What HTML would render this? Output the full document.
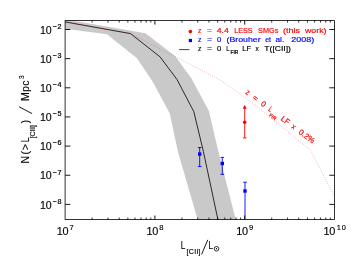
<!DOCTYPE html><html><head><meta charset="utf-8"><style>html,body{margin:0;padding:0;background:#fff}svg{display:block;will-change:transform}text{font-family:"Liberation Sans",sans-serif}.m{stroke:#000;stroke-width:0.12px}</style></head><body>
<svg width="354" height="261" viewBox="0 0 354 261">
<rect width="354" height="261" fill="#fff"/>
<defs><clipPath id="c"><rect x="65.1" y="20.6" width="269.4" height="198.9"/></clipPath></defs>
<g clip-path="url(#c)">
<polygon fill="#c9c9c9" points="65.1,19.3 145.5,33.2 175.3,56.3 191.5,78.5 208.8,110.8 218.3,151 235.7,219.5 197.6,219.5 178,152 169.8,113.4 152,80.6 136.7,58 106.9,34.3 65.1,28.7"/>
<polyline fill="none" stroke="#000" stroke-width="0.8" points="65.1,21.9 130.5,33.6 160,56.8 177,79.5 193.8,111.6 203.4,151.5 217.9,219.5"/>
<polyline fill="none" stroke="#f00" stroke-width="0.65" stroke-dasharray="0.7 1.5" stroke-opacity="0.6" points="65.1,21.9 130.5,33.6 160.5,49.2 190.5,64.5 220.5,80.3 250.5,101.4 280.5,125.7 310.5,150.1 334.5,197"/>
</g>
<line x1="199.7" y1="147.5" x2="199.7" y2="166.5" stroke="#00f" stroke-width="0.9"/><line x1="197.89999999999998" y1="147.5" x2="201.5" y2="147.5" stroke="#00f" stroke-width="0.9"/><line x1="197.89999999999998" y1="166.5" x2="201.5" y2="166.5" stroke="#00f" stroke-width="0.9"/>
<rect x="198.0" y="152.4" width="3.4" height="3.4" fill="#00f"/>
<line x1="222.3" y1="157.4" x2="222.3" y2="174.4" stroke="#00f" stroke-width="0.9"/><line x1="220.5" y1="157.4" x2="224.10000000000002" y2="157.4" stroke="#00f" stroke-width="0.9"/><line x1="220.5" y1="174.4" x2="224.10000000000002" y2="174.4" stroke="#00f" stroke-width="0.9"/>
<rect x="220.60000000000002" y="161.8" width="3.4" height="3.4" fill="#00f"/>
<line x1="245" y1="182.2" x2="245" y2="219.5" stroke="#00f" stroke-width="0.9"/><line x1="243.2" y1="182.2" x2="246.8" y2="182.2" stroke="#00f" stroke-width="0.9"/>
<rect x="243.3" y="189.3" width="3.4" height="3.4" fill="#00f"/>
<line x1="244.7" y1="106" x2="244.7" y2="137.9" stroke="#f00" stroke-width="0.9"/>
<line x1="242.89999999999998" y1="137.9" x2="246.5" y2="137.9" stroke="#f00" stroke-width="0.9"/>
<polygon points="244.7,104.9 242.7,108.8 246.7,108.8" fill="#f00"/>
<circle cx="244.7" cy="122.2" r="1.8" fill="#f00"/>
<rect x="65.1" y="20.6" width="269.4" height="198.9" fill="none" stroke="#000" stroke-width="0.8"/>
<line x1="92.13" y1="219.5" x2="92.13" y2="217.5" stroke="#000" stroke-width="0.8"/>
<line x1="92.13" y1="20.6" x2="92.13" y2="22.6" stroke="#000" stroke-width="0.8"/>
<line x1="107.95" y1="219.5" x2="107.95" y2="217.5" stroke="#000" stroke-width="0.8"/>
<line x1="107.95" y1="20.6" x2="107.95" y2="22.6" stroke="#000" stroke-width="0.8"/>
<line x1="119.16" y1="219.5" x2="119.16" y2="217.5" stroke="#000" stroke-width="0.8"/>
<line x1="119.16" y1="20.6" x2="119.16" y2="22.6" stroke="#000" stroke-width="0.8"/>
<line x1="127.87" y1="219.5" x2="127.87" y2="217.5" stroke="#000" stroke-width="0.8"/>
<line x1="127.87" y1="20.6" x2="127.87" y2="22.6" stroke="#000" stroke-width="0.8"/>
<line x1="134.98" y1="219.5" x2="134.98" y2="217.5" stroke="#000" stroke-width="0.8"/>
<line x1="134.98" y1="20.6" x2="134.98" y2="22.6" stroke="#000" stroke-width="0.8"/>
<line x1="140.99" y1="219.5" x2="140.99" y2="217.5" stroke="#000" stroke-width="0.8"/>
<line x1="140.99" y1="20.6" x2="140.99" y2="22.6" stroke="#000" stroke-width="0.8"/>
<line x1="146.20" y1="219.5" x2="146.20" y2="217.5" stroke="#000" stroke-width="0.8"/>
<line x1="146.20" y1="20.6" x2="146.20" y2="22.6" stroke="#000" stroke-width="0.8"/>
<line x1="150.79" y1="219.5" x2="150.79" y2="217.5" stroke="#000" stroke-width="0.8"/>
<line x1="150.79" y1="20.6" x2="150.79" y2="22.6" stroke="#000" stroke-width="0.8"/>
<line x1="154.90" y1="219.5" x2="154.90" y2="215.5" stroke="#000" stroke-width="0.9"/>
<line x1="154.90" y1="20.6" x2="154.90" y2="24.6" stroke="#000" stroke-width="0.9"/>
<line x1="181.93" y1="219.5" x2="181.93" y2="217.5" stroke="#000" stroke-width="0.8"/>
<line x1="181.93" y1="20.6" x2="181.93" y2="22.6" stroke="#000" stroke-width="0.8"/>
<line x1="197.75" y1="219.5" x2="197.75" y2="217.5" stroke="#000" stroke-width="0.8"/>
<line x1="197.75" y1="20.6" x2="197.75" y2="22.6" stroke="#000" stroke-width="0.8"/>
<line x1="208.96" y1="219.5" x2="208.96" y2="217.5" stroke="#000" stroke-width="0.8"/>
<line x1="208.96" y1="20.6" x2="208.96" y2="22.6" stroke="#000" stroke-width="0.8"/>
<line x1="217.67" y1="219.5" x2="217.67" y2="217.5" stroke="#000" stroke-width="0.8"/>
<line x1="217.67" y1="20.6" x2="217.67" y2="22.6" stroke="#000" stroke-width="0.8"/>
<line x1="224.78" y1="219.5" x2="224.78" y2="217.5" stroke="#000" stroke-width="0.8"/>
<line x1="224.78" y1="20.6" x2="224.78" y2="22.6" stroke="#000" stroke-width="0.8"/>
<line x1="230.79" y1="219.5" x2="230.79" y2="217.5" stroke="#000" stroke-width="0.8"/>
<line x1="230.79" y1="20.6" x2="230.79" y2="22.6" stroke="#000" stroke-width="0.8"/>
<line x1="236.00" y1="219.5" x2="236.00" y2="217.5" stroke="#000" stroke-width="0.8"/>
<line x1="236.00" y1="20.6" x2="236.00" y2="22.6" stroke="#000" stroke-width="0.8"/>
<line x1="240.59" y1="219.5" x2="240.59" y2="217.5" stroke="#000" stroke-width="0.8"/>
<line x1="240.59" y1="20.6" x2="240.59" y2="22.6" stroke="#000" stroke-width="0.8"/>
<line x1="244.70" y1="219.5" x2="244.70" y2="215.5" stroke="#000" stroke-width="0.9"/>
<line x1="244.70" y1="20.6" x2="244.70" y2="24.6" stroke="#000" stroke-width="0.9"/>
<line x1="271.73" y1="219.5" x2="271.73" y2="217.5" stroke="#000" stroke-width="0.8"/>
<line x1="271.73" y1="20.6" x2="271.73" y2="22.6" stroke="#000" stroke-width="0.8"/>
<line x1="287.55" y1="219.5" x2="287.55" y2="217.5" stroke="#000" stroke-width="0.8"/>
<line x1="287.55" y1="20.6" x2="287.55" y2="22.6" stroke="#000" stroke-width="0.8"/>
<line x1="298.76" y1="219.5" x2="298.76" y2="217.5" stroke="#000" stroke-width="0.8"/>
<line x1="298.76" y1="20.6" x2="298.76" y2="22.6" stroke="#000" stroke-width="0.8"/>
<line x1="307.47" y1="219.5" x2="307.47" y2="217.5" stroke="#000" stroke-width="0.8"/>
<line x1="307.47" y1="20.6" x2="307.47" y2="22.6" stroke="#000" stroke-width="0.8"/>
<line x1="314.58" y1="219.5" x2="314.58" y2="217.5" stroke="#000" stroke-width="0.8"/>
<line x1="314.58" y1="20.6" x2="314.58" y2="22.6" stroke="#000" stroke-width="0.8"/>
<line x1="320.59" y1="219.5" x2="320.59" y2="217.5" stroke="#000" stroke-width="0.8"/>
<line x1="320.59" y1="20.6" x2="320.59" y2="22.6" stroke="#000" stroke-width="0.8"/>
<line x1="325.80" y1="219.5" x2="325.80" y2="217.5" stroke="#000" stroke-width="0.8"/>
<line x1="325.80" y1="20.6" x2="325.80" y2="22.6" stroke="#000" stroke-width="0.8"/>
<line x1="330.39" y1="219.5" x2="330.39" y2="217.5" stroke="#000" stroke-width="0.8"/>
<line x1="330.39" y1="20.6" x2="330.39" y2="22.6" stroke="#000" stroke-width="0.8"/>
<line x1="65.1" y1="204.40" x2="70.3" y2="204.40" stroke="#000" stroke-width="0.9"/>
<line x1="334.5" y1="204.40" x2="329.3" y2="204.40" stroke="#000" stroke-width="0.9"/>
<text x="40" y="208.60" class="m" font-size="10.6" textLength="11.6">10</text>
<text x="52.6" y="203.70" font-size="7.2" stroke="#000" stroke-width="0.22" textLength="9">−8</text>
<line x1="65.1" y1="175.25" x2="70.3" y2="175.25" stroke="#000" stroke-width="0.9"/>
<line x1="334.5" y1="175.25" x2="329.3" y2="175.25" stroke="#000" stroke-width="0.9"/>
<text x="40" y="179.45" class="m" font-size="10.6" textLength="11.6">10</text>
<text x="52.6" y="174.55" font-size="7.2" stroke="#000" stroke-width="0.22" textLength="9">−7</text>
<line x1="65.1" y1="146.10" x2="70.3" y2="146.10" stroke="#000" stroke-width="0.9"/>
<line x1="334.5" y1="146.10" x2="329.3" y2="146.10" stroke="#000" stroke-width="0.9"/>
<text x="40" y="150.30" class="m" font-size="10.6" textLength="11.6">10</text>
<text x="52.6" y="145.40" font-size="7.2" stroke="#000" stroke-width="0.22" textLength="9">−6</text>
<line x1="65.1" y1="116.95" x2="70.3" y2="116.95" stroke="#000" stroke-width="0.9"/>
<line x1="334.5" y1="116.95" x2="329.3" y2="116.95" stroke="#000" stroke-width="0.9"/>
<text x="40" y="121.15" class="m" font-size="10.6" textLength="11.6">10</text>
<text x="52.6" y="116.25" font-size="7.2" stroke="#000" stroke-width="0.22" textLength="9">−5</text>
<line x1="65.1" y1="87.80" x2="70.3" y2="87.80" stroke="#000" stroke-width="0.9"/>
<line x1="334.5" y1="87.80" x2="329.3" y2="87.80" stroke="#000" stroke-width="0.9"/>
<text x="40" y="92.00" class="m" font-size="10.6" textLength="11.6">10</text>
<text x="52.6" y="87.10" font-size="7.2" stroke="#000" stroke-width="0.22" textLength="9">−4</text>
<line x1="65.1" y1="58.65" x2="70.3" y2="58.65" stroke="#000" stroke-width="0.9"/>
<line x1="334.5" y1="58.65" x2="329.3" y2="58.65" stroke="#000" stroke-width="0.9"/>
<text x="40" y="62.85" class="m" font-size="10.6" textLength="11.6">10</text>
<text x="52.6" y="57.95" font-size="7.2" stroke="#000" stroke-width="0.22" textLength="9">−3</text>
<line x1="65.1" y1="29.50" x2="70.3" y2="29.50" stroke="#000" stroke-width="0.9"/>
<line x1="334.5" y1="29.50" x2="329.3" y2="29.50" stroke="#000" stroke-width="0.9"/>
<text x="40" y="33.70" class="m" font-size="10.6" textLength="11.6">10</text>
<text x="52.6" y="28.80" font-size="7.2" stroke="#000" stroke-width="0.22" textLength="9">−2</text>
<text x="56.70" y="235.2" class="m" font-size="10.9" textLength="11.8">10</text>
<text x="69.50" y="230.2" font-size="7.6" stroke="#000" stroke-width="0.15">7</text>
<text x="146.50" y="235.2" class="m" font-size="10.9" textLength="11.8">10</text>
<text x="159.30" y="230.2" font-size="7.6" stroke="#000" stroke-width="0.15">8</text>
<text x="236.30" y="235.2" class="m" font-size="10.9" textLength="11.8">10</text>
<text x="249.10" y="230.2" font-size="7.6" stroke="#000" stroke-width="0.15">9</text>
<text x="323.60" y="235.2" class="m" font-size="10.9" textLength="11.8">10</text>
<text x="336.70" y="230.2" font-size="7.4" stroke="#000" stroke-width="0.15" textLength="9.2">10</text>
<text x="180.7" y="248.8" class="m" font-size="10.6" textLength="4.6" lengthAdjust="spacingAndGlyphs">L</text>
<text x="186.6" y="254.3" font-size="7.1" stroke="#000" stroke-width="0.15" textLength="14">[CII]</text>
<line x1="201.6" y1="254.4" x2="207.8" y2="239.8" stroke="#000" stroke-width="0.9"/>
<text x="208.5" y="248.8" class="m" font-size="10.6" textLength="4.4" lengthAdjust="spacingAndGlyphs">L</text>
<circle cx="216.5" cy="248.8" r="2.3" fill="none" stroke="#000" stroke-width="0.8"/><circle cx="216.5" cy="248.8" r="0.7" fill="#000"/>
<g transform="translate(29.1,163.4) rotate(-90)">
<text x="0" y="0" class="m" font-size="10.6">N</text>
<text x="9" y="0" class="m" font-size="10.6">(</text>
<text x="13.2" y="0" class="m" font-size="10.6">&gt;</text>
<text x="21.2" y="0" class="m" font-size="10.6" textLength="4.7" lengthAdjust="spacingAndGlyphs">L</text>
<text x="24.8" y="5.8" font-size="7.1" stroke="#000" stroke-width="0.15" textLength="13.6">[CII]</text>
<text x="40" y="0" class="m" font-size="10.6">)</text>
<line x1="49.8" y1="3" x2="56.6" y2="-10" stroke="#000" stroke-width="0.9"/>
<text x="62.4" y="0" class="m" font-size="10.6" textLength="20.6">Mpc</text>
<text x="84.4" y="-4.8" font-size="6.6" stroke="#000" stroke-width="0.15">3</text>
</g>
<circle cx="190.4" cy="31.6" r="1.8" fill="#f00"/>
<rect x="188.8" y="38.9" width="3.2" height="3.2" fill="#00f"/>
<line x1="179.1" y1="49.6" x2="189.4" y2="49.6" stroke="#000" stroke-width="0.75"/>
<text x="197.9" y="33.3" font-size="7.8" fill="#f00" stroke="#f00" stroke-width="0.17" textLength="3.4" lengthAdjust="spacingAndGlyphs">z</text>
<text x="206.9" y="33.3" font-size="7.8" fill="#f00" stroke="#f00" stroke-width="0.17" textLength="5.0" lengthAdjust="spacingAndGlyphs">=</text>
<text x="216.7" y="33.3" font-size="7.8" fill="#f00" stroke="#f00" stroke-width="0.17" textLength="12.1" lengthAdjust="spacingAndGlyphs">4.4</text>
<text x="234.2" y="33.3" font-size="7.8" fill="#f00" stroke="#f00" stroke-width="0.17" textLength="18.5" lengthAdjust="spacingAndGlyphs">LESS</text>
<text x="258.1" y="33.3" font-size="7.8" fill="#f00" stroke="#f00" stroke-width="0.17" textLength="20.2" lengthAdjust="spacingAndGlyphs">SMGs</text>
<text x="282.9" y="33.3" font-size="7.8" fill="#f00" stroke="#f00" stroke-width="0.17" textLength="17.0" lengthAdjust="spacingAndGlyphs">(this</text>
<text x="304.9" y="33.3" font-size="7.8" fill="#f00" stroke="#f00" stroke-width="0.17" textLength="21.6" lengthAdjust="spacingAndGlyphs">work)</text>
<text x="197.9" y="42.0" font-size="7.8" fill="#00f" stroke="#00f" stroke-width="0.17" textLength="3.4" lengthAdjust="spacingAndGlyphs">z</text>
<text x="206.9" y="42.0" font-size="7.8" fill="#00f" stroke="#00f" stroke-width="0.17" textLength="5.0" lengthAdjust="spacingAndGlyphs">=</text>
<text x="217" y="42.0" font-size="7.8" fill="#00f" stroke="#00f" stroke-width="0.17" textLength="4.3" lengthAdjust="spacingAndGlyphs">0</text>
<text x="226.5" y="42.0" font-size="7.8" fill="#00f" stroke="#00f" stroke-width="0.17" textLength="34.1" lengthAdjust="spacingAndGlyphs">(Brouher</text>
<text x="265.2" y="42.0" font-size="7.8" fill="#00f" stroke="#00f" stroke-width="0.17" textLength="5.9" lengthAdjust="spacingAndGlyphs">et</text>
<text x="275.5" y="42.0" font-size="7.8" fill="#00f" stroke="#00f" stroke-width="0.17" textLength="8.7" lengthAdjust="spacingAndGlyphs">al.</text>
<text x="291.2" y="42.0" font-size="7.8" fill="#00f" stroke="#00f" stroke-width="0.17" textLength="23.0" lengthAdjust="spacingAndGlyphs">2008)</text>
<text x="197.9" y="50.7" font-size="7.8" fill="#000" stroke="#000" stroke-width="0.17" textLength="3.4" lengthAdjust="spacingAndGlyphs">z</text>
<text x="206.9" y="50.7" font-size="7.8" fill="#000" stroke="#000" stroke-width="0.17" textLength="5.0" lengthAdjust="spacingAndGlyphs">=</text>
<text x="217" y="50.7" font-size="7.8" fill="#000" stroke="#000" stroke-width="0.17" textLength="4.3" lengthAdjust="spacingAndGlyphs">0</text>
<text x="226.3" y="50.7" font-size="7.8" fill="#000" stroke="#000" stroke-width="0.17" textLength="3.3" lengthAdjust="spacingAndGlyphs">L</text>
<text x="242.2" y="50.7" font-size="7.8" fill="#000" stroke="#000" stroke-width="0.17" textLength="8.8" lengthAdjust="spacingAndGlyphs">LF</text>
<text x="255.6" y="50.7" font-size="7.8" fill="#000" stroke="#000" stroke-width="0.17" textLength="3.3" lengthAdjust="spacingAndGlyphs">x</text>
<text x="264.3" y="50.7" font-size="7.8" fill="#000" stroke="#000" stroke-width="0.17" textLength="26.7" lengthAdjust="spacingAndGlyphs">T([CII])</text>
<text x="230.4" y="54.4" font-size="4.6" fill="#000" stroke="#000" stroke-width="0.2" textLength="7.9" lengthAdjust="spacingAndGlyphs">FIR</text>
<g transform="translate(244.9,93.3) rotate(36.8)">
<text x="0" y="0" font-size="7.8" fill="#f00" stroke="#f00" stroke-width="0.17" textLength="3.4" lengthAdjust="spacingAndGlyphs">z</text>
<text x="9" y="0" font-size="7.8" fill="#f00" stroke="#f00" stroke-width="0.17" textLength="5.0" lengthAdjust="spacingAndGlyphs">=</text>
<text x="19.1" y="0" font-size="7.8" fill="#f00" stroke="#f00" stroke-width="0.17" textLength="4.3" lengthAdjust="spacingAndGlyphs">0</text>
<text x="28.4" y="0" font-size="7.8" fill="#f00" stroke="#f00" stroke-width="0.17" textLength="3.3" lengthAdjust="spacingAndGlyphs">L</text>
<text x="44.3" y="0" font-size="7.8" fill="#f00" stroke="#f00" stroke-width="0.17" textLength="8.8" lengthAdjust="spacingAndGlyphs">LF</text>
<text x="57.7" y="0" font-size="7.8" fill="#f00" stroke="#f00" stroke-width="0.17" textLength="3.3" lengthAdjust="spacingAndGlyphs">x</text>
<text x="66.2" y="0" font-size="7.8" fill="#f00" stroke="#f00" stroke-width="0.17" textLength="18.1" lengthAdjust="spacingAndGlyphs">0.2%</text>
<text x="32.5" y="3.7" font-size="4.6" fill="#f00" stroke="#f00" stroke-width="0.2" textLength="7.9" lengthAdjust="spacingAndGlyphs">FIR</text>
</g>
</svg></body></html>
